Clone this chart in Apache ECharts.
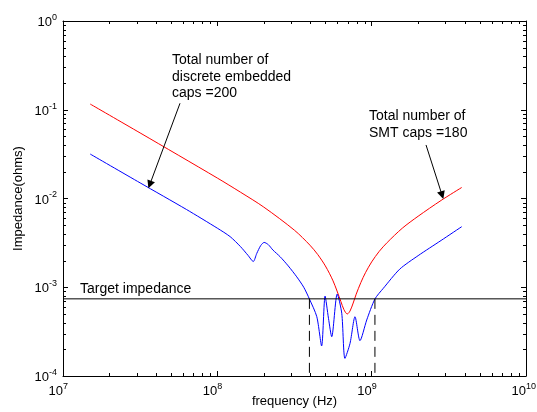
<!DOCTYPE html>
<html><head><meta charset="utf-8">
<script src="https://cdn.jsdelivr.net/npm/echarts@6/dist/echarts.min.js"></script>
<style>html,body{margin:0;padding:0;background:#fff}#c{width:537px;height:412px}</style>
</head><body><div id="c"></div>
<script>
// ---- data ----
const redFreq = [1.5e7, 3.16e7, 1.0e8, 1.41e8, 2.0e8, 3.16e8, 3.98e8, 4.47e8, 5.01e8, 5.62e8, 6.31e8, 6.61e8, 6.95e8, 7.24e8, 7.59e8, 7.94e8, 8.51e8, 9.12e8, 1.0e9, 1.12e9, 1.26e9, 1.58e9, 2.0e9, 2.82e9, 3.83e9];
const redZ    = [0.116, 0.0548, 0.0170, 0.0118, 8.0e-3, 4.39e-3, 2.98e-3, 2.34e-3, 1.74e-3, 1.18e-3, 6.95e-4, 5.6e-4, 5.0e-4, 5.4e-4, 6.64e-4, 8.36e-4, 1.13e-3, 1.46e-3, 1.93e-3, 2.54e-3, 3.19e-3, 4.63e-3, 6.31e-3, 9.52e-3, 0.0133];
const blueFreq = [1.5e7, 3.16e7, 6.31e7, 1.0e8, 1.21e8, 1.41e8, 1.58e8, 1.71e8, 1.80e8, 1.91e8, 2.01e8, 2.14e8, 2.29e8, 2.55e8, 2.88e8, 3.27e8, 3.63e8, 3.95e8, 4.41e8, 4.74e8, 4.99e8, 5.25e8, 5.51e8, 5.98e8, 6.40e8, 6.71e8, 7.24e8, 7.80e8, 8.40e8, 9.29e8, 1.05e9, 1.19e9, 1.52e9, 2.0e9, 2.82e9, 3.83e9];
const blueZ    = [0.0317, 0.0150, 7.52e-3, 4.63e-3, 3.72e-3, 2.88e-3, 2.29e-3, 1.95e-3, 2.4e-3, 2.95e-3, 3.2e-3, 3.02e-3, 2.63e-3, 2.21e-3, 1.74e-3, 1.31e-3, 1.0e-3, 7.38e-4, 4.66e-4, 2.18e-4, 7.96e-4, 4.47e-4, 2.77e-4, 8.39e-4, 5.09e-4, 1.58e-4, 2.33e-4, 4.66e-4, 2.5e-4, 4.28e-4, 7.38e-4, 9.73e-4, 1.60e-3, 2.27e-3, 3.37e-3, 4.81e-3];
const targetZ = 7.4e-4;
const bandEdges = [3.95e8, 1.05e9];
const xRange = [1e7, 1e10];
const yRange = [1e-4, 1e0];
const arrowDiscrete = [[5.73e7, 0.1183], [3.65e7, 0.01435]];
const arrowSMT = [[2.25e9, 0.0401], [2.86e9, 0.01089]];
const texts = {
  discrete: 'Total number of\ndiscrete embedded\ncaps =200',
  smt: 'Total number of\nSMT caps =180',
  target: 'Target impedance',
  xName: 'frequency (Hz)',
  yName: 'Impedance(ohms)'
};

const FONT = '"Liberation Sans", Arial, sans-serif';
const zip = (a, b) => a.map((v, i) => [v, b[i]]);

// minor tick positions (2..9 per decade)
const minorX = []; for (let d = 7; d < 10; d++) for (let k = 2; k < 10; k++) minorX.push(k * Math.pow(10, d));
const minorY = []; for (let d = -4; d < 0; d++) for (let k = 2; k < 10; k++) minorY.push(k * Math.pow(10, d));

const expOf = v => Math.round(Math.log10(v));
const yLabel = v => '{b|10}{s|' + expOf(v) + '}';
// x labels: "10" ends at the tick, exponent just right of it
const xLabel = v => { const e = String(expOf(v)); return '{b|10}{' + (e.length > 1 ? 's2' : 's1') + '|' + e + '}'; };
const bStyle = { fontSize: 13, fontFamily: FONT, color: '#000', lineHeight: 16, verticalAlign: 'bottom' };
const sStyle = { fontSize: 9, fontFamily: FONT, color: '#000', lineHeight: 16, verticalAlign: 'top' };
const richY = { b: bStyle, s: sStyle };
const richX = {
  b: bStyle,
  s1: Object.assign({}, sStyle, { padding: [0, 9.5, 0, 0] }),
  s2: Object.assign({}, sStyle, { padding: [0, 4.5, 0, 0] })
};
const axisBase = (pos, range) => ({
  type: 'log', logBase: 10, min: range[0], max: range[1], position: pos,
  axisLine: { show: true, lineStyle: { color: '#000', width: 1 } },
  axisTick: { show: true, inside: true, length: 5, lineStyle: { color: '#000' } },
  splitLine: { show: false },
  minorTick: { show: false }
});

const chart = echarts.init(document.getElementById('c'), null, { renderer: 'canvas' });
const LEFT = 63, TOP = 21, RIGHT = 11, BOTTOM = 36;

const option = {
  animation: false,
  backgroundColor: '#fff',
  grid: { left: LEFT, top: TOP, right: RIGHT, bottom: BOTTOM, containLabel: false, outerBoundsMode: 'none' },
  xAxis: [
    Object.assign(axisBase('bottom', xRange), {
      name: texts.xName, nameLocation: 'middle', nameGap: 19, nameMoveOverlap: false,
      nameTextStyle: { fontSize: 13, fontFamily: FONT, color: '#000' },
      axisLabel: { show: true, margin: 6, formatter: xLabel, rich: richX, hideOverlap: false, showMinLabel: true, showMaxLabel: true }
    }),
    Object.assign(axisBase('top', xRange), { axisLabel: { show: false } })
  ],
  yAxis: [
    Object.assign(axisBase('left', yRange), {
      name: texts.yName, nameLocation: 'middle', nameGap: 38, nameMoveOverlap: false,
      nameTextStyle: { fontSize: 13, fontFamily: FONT, color: '#000' },
      axisLabel: { show: true, margin: 6, formatter: yLabel, rich: richY, showMinLabel: true, showMaxLabel: true }
    }),
    Object.assign(axisBase('right', yRange), { axisLabel: { show: false } })
  ],
  series: [
    {
      type: 'line', name: 'SMT', data: zip(redFreq, redZ), showSymbol: false, smooth: 0.3,
      lineStyle: { color: '#ff0000', width: 1 }, z: 3,
      markLine: {
        silent: true, symbol: ['none', 'triangle'], symbolSize: 8,
        lineStyle: { color: '#000', width: 1, type: 'solid' }, label: { show: false },
        data: [
          [{ coord: arrowDiscrete[0] }, { coord: arrowDiscrete[1] }],
          [{ coord: arrowSMT[0] }, { coord: arrowSMT[1] }]
        ]
      }
    },
    {
      type: 'line', name: 'discrete', data: zip(blueFreq, blueZ), showSymbol: false, smooth: 0.25,
      lineStyle: { color: '#0000ff', width: 1 }, z: 3
    },
    {
      type: 'line', name: 'target', data: [[xRange[0], targetZ], [xRange[1], targetZ]], showSymbol: false,
      lineStyle: { color: '#000', width: 1 }, z: 4
    },
    {
      type: 'line', name: 'edge1', data: [[bandEdges[0], targetZ], [bandEdges[0], yRange[0]]], showSymbol: false,
      lineStyle: { color: '#000', width: 1, type: [10, 6] }, z: 4
    },
    {
      type: 'line', name: 'edge2', data: [[bandEdges[1], targetZ], [bandEdges[1], yRange[0]]], showSymbol: false,
      lineStyle: { color: '#000', width: 1, type: [10, 6] }, z: 4
    },
    {
      type: 'custom', name: 'minorTicks', silent: true, z: 5, data: [[1e8, 1e-2]],
      renderItem(params, api) {
        const cs = params.coordSys;
        const ch = [];
        const st = { stroke: '#000', lineWidth: 1 };
        const L = 3;
        minorX.forEach(v => {
          const x = Math.round(api.coord([v, 1e-2])[0]) + 0.5;
          ch.push({ type: 'line', shape: { x1: x, y1: cs.y + cs.height, x2: x, y2: cs.y + cs.height - L }, style: st });
          ch.push({ type: 'line', shape: { x1: x, y1: cs.y, x2: x, y2: cs.y + L }, style: st });
        });
        minorY.forEach(v => {
          const y = Math.round(api.coord([1e8, v])[1]) + 0.5;
          ch.push({ type: 'line', shape: { x1: cs.x, y1: y, x2: cs.x + L, y2: y }, style: st });
          ch.push({ type: 'line', shape: { x1: cs.x + cs.width, y1: y, x2: cs.x + cs.width - L, y2: y }, style: st });
        });
        return { type: 'group', children: ch };
      }
    }
  ],
  graphic: [
    { type: 'text', left: 172, top: 52, style: { text: texts.discrete, font: '14px ' + FONT, fill: '#000', lineHeight: 16.5 } },
    { type: 'text', left: 369, top: 108, style: { text: texts.smt, font: '14px ' + FONT, fill: '#000', lineHeight: 16.5 } },
    { type: 'text', left: 80, top: 282, style: { text: texts.target, font: '14px ' + FONT, fill: '#000' } }
  ]
};
chart.setOption(option);
</script>
</body></html>
